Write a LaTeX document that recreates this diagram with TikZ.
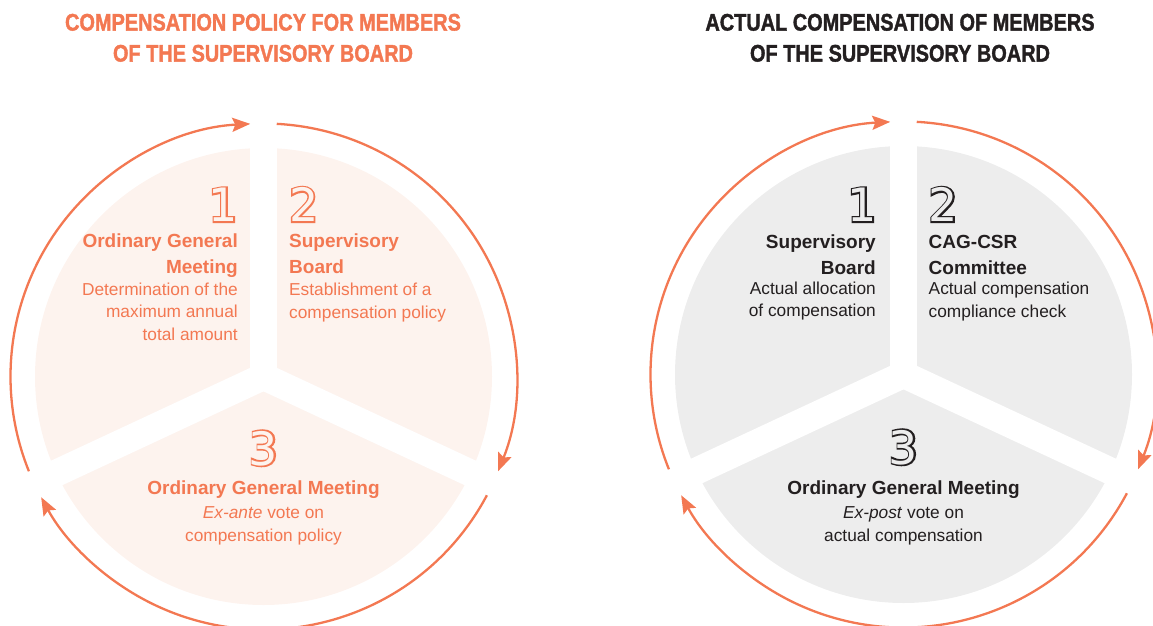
\documentclass[tikz,border=0pt]{standalone}
\usepackage{fontspec}
\setmainfont{Liberation Sans}
\newfontfamily\titlefont[FakeStretch=0.83, FakeBold=1.5]{Liberation Sans}
\newfontfamily\digitfont{DejaVu Sans}
\newfontfamily\digitbold[FakeBold=7]{DejaVu Sans}
\usetikzlibrary{arrows.meta,calc}

\definecolor{coral}{HTML}{F37852}
\definecolor{peach}{HTML}{FDF3EE}
\definecolor{lightgrey}{HTML}{EDEDED}
\definecolor{ink}{HTML}{231F20}

% outline digit: stroked copy under a copy in the background colour
\newcommand{\outnum}[3]{\rlap{\textcolor{#1}{\digitbold #3}}\textcolor{#2}{\digitfont #3}}

\begin{document}
\begin{tikzpicture}[x=1pt, y=1pt,
    title/.style={font=\titlefont\bfseries\fontsize{24}{31}\selectfont, align=center, inner sep=0pt},
    num/.style={font=\fontsize{46}{46}\selectfont, inner sep=0pt},
    head/.style={font=\bfseries\fontsize{19}{26}\selectfont, inner sep=0pt},
    body/.style={font=\fontsize{17.3}{22.3}\selectfont, inner sep=0pt},
    gap/.style={white, line width=27pt, line cap=round},
    ring/.style={draw=coral, line width=2.3pt, -{Stealth[length=18pt, width=14pt, inset=3pt]}}]

    % Fix the picture size
    \useasboundingbox (0,0) rectangle (1153,-625);

    % Define the radii
    \def\rpie{228.5}
    \def\rring{253}

    % Titles (anchored on the last line)
    \node[title, text=coral, anchor=base] (tl) at (263,-61.6) {COMPENSATION POLICY FOR MEMBERS\\OF THE SUPERVISORY BOARD};
    \node[title, text=ink, anchor=base] (tr) at (900,-61.6) {ACTUAL COMPENSATION OF MEMBERS\\OF THE SUPERVISORY BOARD};

    % Left circle: pie, white gaps and the ring of arrows
    \coordinate (cl) at (263.5,-376.5);
    \fill[peach] (cl) circle (\rpie);
    \foreach \a in {90,205,335}
        \draw[gap] (cl) -- ++(\a:240);
    \draw[ring] ([shift={(202:\rring)}]cl) arc[start angle=202, end angle=93, radius=\rring];
    \draw[ring] ([shift={(87:\rring)}]cl) arc[start angle=87, end angle=-22, radius=\rring];
    \draw[ring] ([shift={(-28:\rring)}]cl) arc[start angle=-28, end angle=-151.5, radius=\rring];

    % Left circle: texts
    \node[num, anchor=base east] (ln1) at (238,-221.5) {\outnum{coral}{peach}{1}};
    \node[head, text=coral, anchor=base east, align=right] (lh1) at (238,-273.5) {Ordinary General\\Meeting};
    \node[body, text=coral, anchor=base east, align=right] (lb1) at (238,-340) {Determination of the\\maximum annual\\total amount};
    \node[num, anchor=base west] (ln2) at (289,-221.5) {\outnum{coral}{peach}{2}};
    \node[head, text=coral, anchor=base west, align=left] (lh2) at (289,-273.5) {Supervisory\\Board};
    \node[body, text=coral, anchor=base west, align=left] (lb2) at (289,-318) {Establishment of a\\compensation policy};
    \node[num, anchor=base] (ln3) at (263.5,-465) {\outnum{coral}{peach}{3}};
    \node[head, text=coral, anchor=base] (lh3) at (263.5,-494) {Ordinary General Meeting};
    \node[body, text=coral, anchor=base, align=center] (lb3) at (263.5,-541) {\textit{Ex-ante} vote on\\compensation policy};

    % Right circle: pie, white gaps and the ring of arrows
    \coordinate (cr) at (903.5,-374.5);
    \fill[lightgrey] (cr) circle (\rpie);
    \foreach \a in {90,205,335}
        \draw[gap] (cr) -- ++(\a:240);
    \draw[ring] ([shift={(202:\rring)}]cr) arc[start angle=202, end angle=93, radius=\rring];
    \draw[ring] ([shift={(87:\rring)}]cr) arc[start angle=87, end angle=-22, radius=\rring];
    \draw[ring] ([shift={(-28:\rring)}]cr) arc[start angle=-28, end angle=-151.5, radius=\rring];

    % Right circle: texts
    \node[num, anchor=base east] (rn1) at (877,-221.5) {\outnum{ink}{lightgrey}{1}};
    \node[head, text=ink, anchor=base east, align=right] (rh1) at (876,-274.5) {Supervisory\\Board};
    \node[body, text=ink, anchor=base east, align=right] (rb1) at (876,-316.5) {Actual allocation\\of compensation};
    \node[num, anchor=base west] (rn2) at (928.5,-221.5) {\outnum{ink}{lightgrey}{2}};
    \node[head, text=ink, anchor=base west, align=left] (rh2) at (928.5,-274.5) {CAG-CSR\\Committee};
    \node[body, text=ink, anchor=base west, align=left] (rb2) at (928.5,-317) {Actual compensation\\compliance check};
    \node[num, anchor=base] (rn3) at (903.5,-464) {\outnum{ink}{lightgrey}{3}};
    \node[head, text=ink, anchor=base] (rh3) at (903.5,-494) {Ordinary General Meeting};
    \node[body, text=ink, anchor=base, align=center] (rb3) at (903.5,-541) {\textit{Ex-post} vote on\\actual compensation};

\end{tikzpicture}
\end{document}
